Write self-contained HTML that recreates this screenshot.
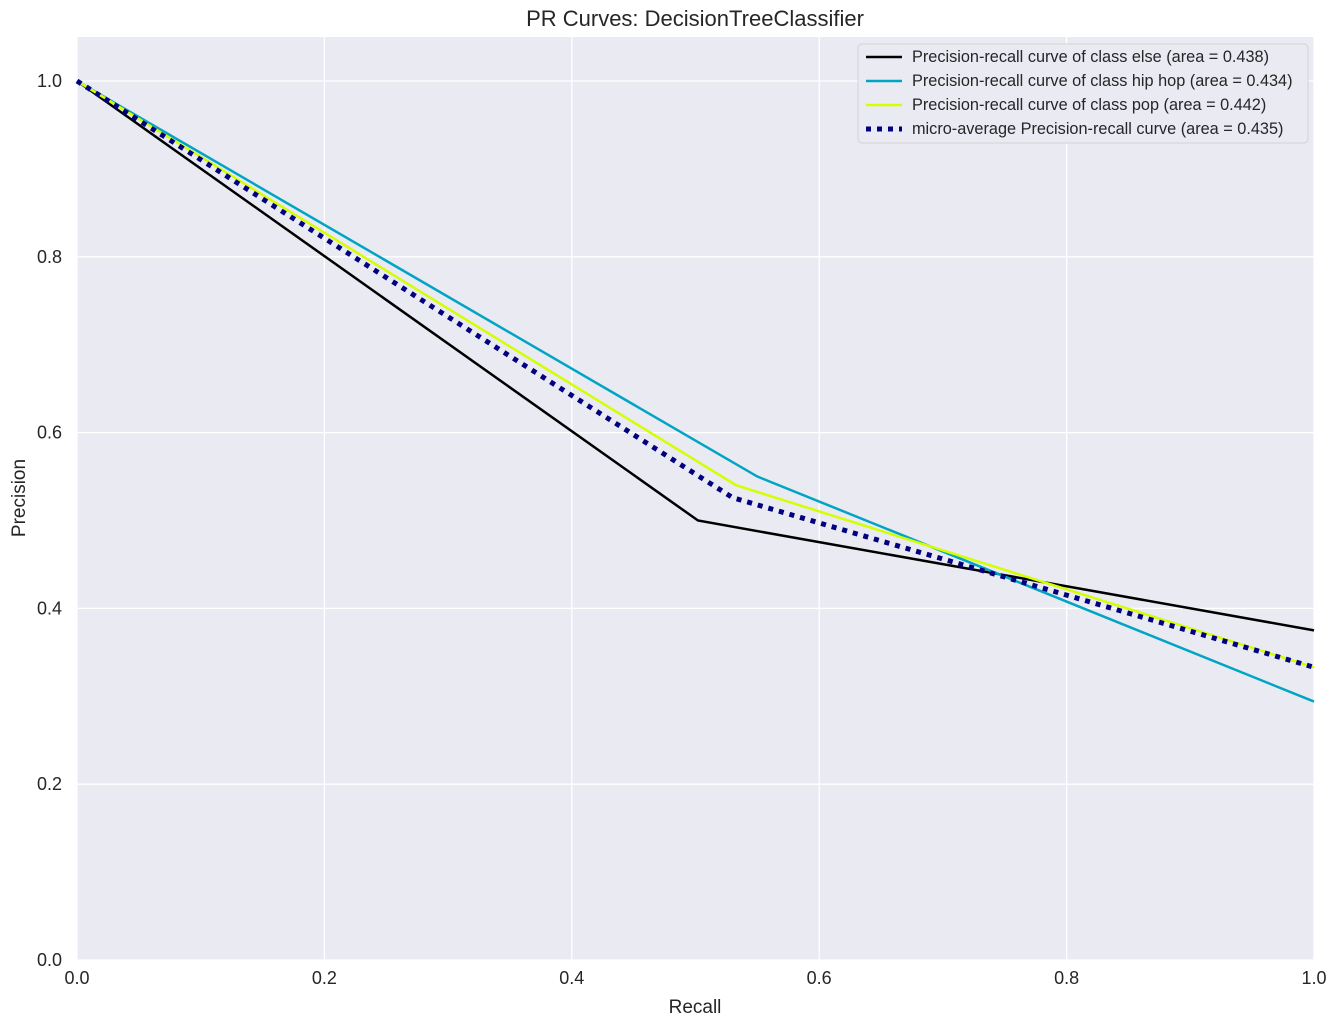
<!DOCTYPE html>
<html><head><meta charset="utf-8"><style>
body{margin:0;background:#fff;font-family:"Liberation Sans","DejaVu Sans",sans-serif;}
</style></head><body>
<svg id="chart" width="1339" height="1027" xmlns="http://www.w3.org/2000/svg">
<rect x="77" y="37" width="1237" height="923" fill="#eaeaf2"/>
<g id="grid"></g>
<g id="ticks" font-size="18" fill="#262626"></g>
<g id="lines"></g>
<text x="695" y="26" text-anchor="middle" font-size="22" fill="#262626">PR Curves: DecisionTreeClassifier</text>
<text x="695" y="1013" text-anchor="middle" font-size="19" fill="#262626">Recall</text>
<text x="25" y="498" text-anchor="middle" font-size="19" fill="#262626" transform="rotate(-90 25 498)">Precision</text>
<g>
<rect x="858" y="44" width="450" height="99" rx="4" fill="#eaeaf2" stroke="#cccccc" stroke-opacity="0.8"/>
<g id="legend-items" font-size="16.3" fill="#262626"></g>
</g>
</svg>
<script>
const xTicks=[0,0.2,0.4,0.6,0.8,1.0];
const yTicks=[0,0.2,0.4,0.6,0.8,1.0];
const seriesNames=["Precision-recall curve of class else (area = 0.438)","Precision-recall curve of class hip hop (area = 0.434)","Precision-recall curve of class pop (area = 0.442)","micro-average Precision-recall curve (area = 0.435)"];
const elseRecall=[0,0.502,1.0];
const elsePrecision=[1.0,0.5,0.375];
const hiphopRecall=[0,0.55,1.0];
const hiphopPrecision=[1.0,0.55,0.294];
const popRecall=[0,0.533,1.0];
const popPrecision=[1.0,0.54,0.333];
const microRecall=[0,0.53,1.0];
const microPrecision=[1.0,0.526,0.333];
const NS="http://www.w3.org/2000/svg";
const X=v=>77+v*1237, Y=v=>960-v*879;
const grid=document.getElementById('grid'),ticks=document.getElementById('ticks'),lines=document.getElementById('lines');
function mk(tag,attrs,parent){const e=document.createElementNS(NS,tag);for(const k in attrs)e.setAttribute(k,attrs[k]);parent.appendChild(e);return e;}
xTicks.forEach(t=>{
 const l=mk('line',{x1:X(t),x2:X(t),y1:37,y2:960,stroke:'#fff','stroke-width':1.3},grid);
 
 
 const tx=mk('text',{x:X(t),y:984,'text-anchor':'middle'},ticks);tx.textContent=t.toFixed(1);
 
 
});
yTicks.forEach(t=>{
 const l=mk('line',{x1:77,x2:1314,y1:Y(t),y2:Y(t),stroke:'#fff','stroke-width':1.3},grid);
 
 
 const tx=mk('text',{x:62,y:Y(t)+6,'text-anchor':'end'},ticks);tx.textContent=t.toFixed(1);
 
 
});
const series=[[elseRecall,elsePrecision,'#000000',2.5,null,'line-else'],[hiphopRecall,hiphopPrecision,'#00a5c4',2.5,null,'line-hip-hop'],[popRecall,popPrecision,'#d4ff00',2.5,null,'line-pop'],[microRecall,microPrecision,'#000080',5,'5 6','line-micro-average']];
series.forEach(s=>{
 const pts=s[0].map((r,i)=>X(r)+','+Y(s[1][i])).join(' ');
 const p=mk('polyline',{points:pts,fill:'none',stroke:s[2],'stroke-width':s[3]},lines);
 if(s[4])p.setAttribute('stroke-dasharray',s[4]);
 
 
});
const li=document.getElementById('legend-items');
series.forEach((s,i)=>{
 const y=57+i*24;
 const l=mk('line',{x1:866,x2:902,y1:y,y2:y,stroke:s[2],'stroke-width':s[3]},li);
 if(s[4])l.setAttribute('stroke-dasharray',s[4]);
 
 
 const t=mk('text',{x:912,y:y+5},li);t.textContent=seriesNames[i];
 
 
});
</script>
</body></html>
